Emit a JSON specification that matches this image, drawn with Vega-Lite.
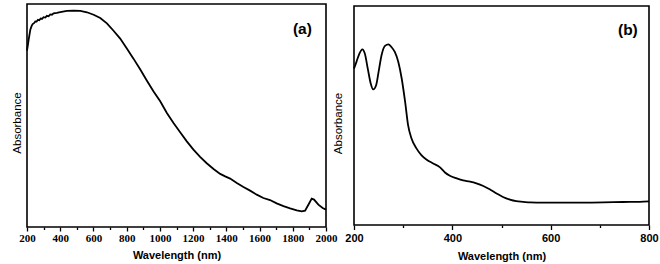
{
  "$schema": "https://vega.github.io/schema/vega-lite/v6.json",
  "background": "white",
  "padding": {"left": 10, "top": 3, "right": 5, "bottom": 2},
  "config": {
    "view": {"stroke": "black", "strokeWidth": 1.6},
    "axis": {"grid": false, "domain": false},
    "font": "Liberation Sans"
  },
  "bounds": "flush",
  "center": true,
  "spacing": 28,
  "hconcat": [
    {
      "width": 299,
      "height": 223,
      "resolve": {"axis": {"x": "independent"}},
      "layer": [
        {
          "data": {"values": [
            {"nm": 200, "A": 0.791}, {"nm": 205, "A": 0.815}, {"nm": 210, "A": 0.840}, {"nm": 220, "A": 0.885},
            {"nm": 228, "A": 0.902}, {"nm": 234, "A": 0.910}, {"nm": 242, "A": 0.914}, {"nm": 250, "A": 0.922},
            {"nm": 258, "A": 0.921}, {"nm": 266, "A": 0.929}, {"nm": 274, "A": 0.927}, {"nm": 282, "A": 0.935},
            {"nm": 290, "A": 0.933}, {"nm": 300, "A": 0.941}, {"nm": 310, "A": 0.939}, {"nm": 320, "A": 0.947},
            {"nm": 330, "A": 0.945}, {"nm": 340, "A": 0.953}, {"nm": 350, "A": 0.952}, {"nm": 360, "A": 0.958},
            {"nm": 380, "A": 0.960}, {"nm": 400, "A": 0.964}, {"nm": 440, "A": 0.969}, {"nm": 481, "A": 0.970},
            {"nm": 521, "A": 0.969}, {"nm": 561, "A": 0.963}, {"nm": 601, "A": 0.952}, {"nm": 641, "A": 0.937},
            {"nm": 681, "A": 0.913}, {"nm": 721, "A": 0.880}, {"nm": 761, "A": 0.845}, {"nm": 801, "A": 0.800},
            {"nm": 841, "A": 0.755}, {"nm": 882, "A": 0.706}, {"nm": 922, "A": 0.656}, {"nm": 962, "A": 0.608},
            {"nm": 1002, "A": 0.564}, {"nm": 1042, "A": 0.511}, {"nm": 1082, "A": 0.466}, {"nm": 1122, "A": 0.425},
            {"nm": 1162, "A": 0.384}, {"nm": 1202, "A": 0.347}, {"nm": 1242, "A": 0.314}, {"nm": 1282, "A": 0.286},
            {"nm": 1323, "A": 0.260}, {"nm": 1363, "A": 0.238}, {"nm": 1393, "A": 0.227}, {"nm": 1423, "A": 0.217},
            {"nm": 1463, "A": 0.197}, {"nm": 1503, "A": 0.179}, {"nm": 1543, "A": 0.163}, {"nm": 1583, "A": 0.145},
            {"nm": 1623, "A": 0.130}, {"nm": 1663, "A": 0.121}, {"nm": 1703, "A": 0.106}, {"nm": 1744, "A": 0.094},
            {"nm": 1784, "A": 0.084}, {"nm": 1824, "A": 0.075}, {"nm": 1854, "A": 0.070}, {"nm": 1874, "A": 0.073},
            {"nm": 1894, "A": 0.100}, {"nm": 1914, "A": 0.127}, {"nm": 1928, "A": 0.123}, {"nm": 1954, "A": 0.100},
            {"nm": 1980, "A": 0.085}, {"nm": 2000, "A": 0.078}
          ]},
          "mark": {"type": "line", "color": "black", "strokeWidth": 1.8},
          "encoding": {
            "x": {
              "field": "nm", "type": "quantitative",
              "scale": {"domain": [200, 2000], "nice": false, "zero": false},
              "axis": {
                "title": "Wavelength (nm)", "orient": "bottom",
                "values": [200, 400, 600, 800, 1000, 1200, 1400, 1600, 1800, 2000],
                "format": "d",
                "labelFont": "Liberation Serif", "labelFontWeight": "bold", "labelFontSize": 11, "labelColor": "black",
                "labelFlush": false, "labelOverlap": false, "labelBound": false,
                "labelPadding": 1,
                "tickSize": 4, "tickColor": "black", "tickWidth": 1.3,
                "titleFont": "Liberation Sans", "titleFontWeight": "bold", "titleFontSize": 11, "titleColor": "black",
                "titlePadding": 6
              }
            },
            "y": {
              "field": "A", "type": "quantitative",
              "scale": {"domain": [0, 1], "nice": false, "zero": false},
              "axis": {
                "title": "Absorbance", "labels": false, "ticks": false,
                "titleFont": "Liberation Sans", "titleFontWeight": "normal", "titleFontSize": 11.5, "titleColor": "black",
                "titlePadding": 5, "titleY": 118.5
              }
            }
          }
        },
        {
          "data": {"values": [{"label": "(a)"}]},
          "mark": {"type": "text", "font": "Liberation Sans", "fontWeight": "bold", "fontSize": 15.5, "color": "black", "align": "center", "baseline": "middle"},
          "encoding": {
            "x": {
              "datum": 1858, "type": "quantitative",
              "axis": {
                "title": null, "orient": "bottom", "labels": false,
                "values": [300, 500, 700, 900, 1100, 1300, 1500, 1700, 1900],
                "tickSize": 2.5, "tickColor": "black", "tickWidth": 1.3
              }
            },
            "y": {"datum": 0.888, "type": "quantitative"},
            "text": {"field": "label"}
          }
        }
      ]
    },
    {
      "width": 295,
      "height": 219,
      "resolve": {"axis": {"x": "independent"}},
      "layer": [
        {
          "data": {"values": [
            {"nm": 200, "A": 0.714}, {"nm": 205, "A": 0.745}, {"nm": 211, "A": 0.783}, {"nm": 217, "A": 0.802},
            {"nm": 222, "A": 0.783}, {"nm": 228, "A": 0.714}, {"nm": 234, "A": 0.646}, {"nm": 239, "A": 0.619},
            {"nm": 245, "A": 0.638}, {"nm": 250, "A": 0.699}, {"nm": 256, "A": 0.775}, {"nm": 263, "A": 0.818},
            {"nm": 270, "A": 0.825}, {"nm": 276, "A": 0.813}, {"nm": 283, "A": 0.790}, {"nm": 290, "A": 0.745},
            {"nm": 297, "A": 0.669}, {"nm": 304, "A": 0.562}, {"nm": 310, "A": 0.456}, {"nm": 317, "A": 0.395},
            {"nm": 327, "A": 0.350}, {"nm": 337, "A": 0.319}, {"nm": 348, "A": 0.298}, {"nm": 361, "A": 0.281},
            {"nm": 375, "A": 0.263}, {"nm": 385, "A": 0.240}, {"nm": 395, "A": 0.225}, {"nm": 409, "A": 0.213},
            {"nm": 422, "A": 0.204}, {"nm": 436, "A": 0.198}, {"nm": 449, "A": 0.190}, {"nm": 463, "A": 0.178},
            {"nm": 476, "A": 0.163}, {"nm": 490, "A": 0.144}, {"nm": 503, "A": 0.128}, {"nm": 517, "A": 0.116},
            {"nm": 530, "A": 0.109}, {"nm": 544, "A": 0.106}, {"nm": 558, "A": 0.103}, {"nm": 585, "A": 0.102},
            {"nm": 625, "A": 0.102}, {"nm": 666, "A": 0.102}, {"nm": 707, "A": 0.103}, {"nm": 747, "A": 0.105},
            {"nm": 781, "A": 0.106}, {"nm": 800, "A": 0.108}
          ]},
          "mark": {"type": "line", "color": "black", "strokeWidth": 1.8, "interpolate": "monotone"},
          "encoding": {
            "x": {
              "field": "nm", "type": "quantitative",
              "scale": {"domain": [200, 800], "nice": false, "zero": false},
              "axis": {
                "title": "Wavelength (nm)", "orient": "bottom",
                "values": [200, 400, 600, 800],
                "format": "d",
                "labelFont": "Liberation Sans", "labelFontWeight": "bold", "labelFontSize": 11, "labelColor": "black",
                "labelFlush": false, "labelOverlap": false, "labelBound": false,
                "labelPadding": 2.5,
                "tickSize": 4.5, "tickColor": "black", "tickWidth": 1.3,
                "titleFont": "Liberation Sans", "titleFontWeight": "bold", "titleFontSize": 11, "titleColor": "black",
                "titlePadding": 7
              }
            },
            "y": {
              "field": "A", "type": "quantitative",
              "scale": {"domain": [0, 1], "nice": false, "zero": false},
              "axis": {
                "title": "Absorbance", "labels": false, "ticks": false,
                "titleFont": "Liberation Sans", "titleFontWeight": "normal", "titleFontSize": 11.5, "titleColor": "black",
                "titlePadding": 11, "titleY": 117
              }
            }
          }
        },
        {
          "data": {"values": [{"label": "(b)"}]},
          "mark": {"type": "text", "font": "Liberation Sans", "fontWeight": "bold", "fontSize": 15.5, "color": "black", "align": "center", "baseline": "middle"},
          "encoding": {
            "x": {
              "datum": 757, "type": "quantitative",
              "axis": {
                "title": null, "orient": "bottom", "labels": false,
                "values": [300, 500, 700],
                "tickSize": 2.5, "tickColor": "black", "tickWidth": 1.3
              }
            },
            "y": {"datum": 0.889, "type": "quantitative"},
            "text": {"field": "label"}
          }
        }
      ]
    }
  ]
}
